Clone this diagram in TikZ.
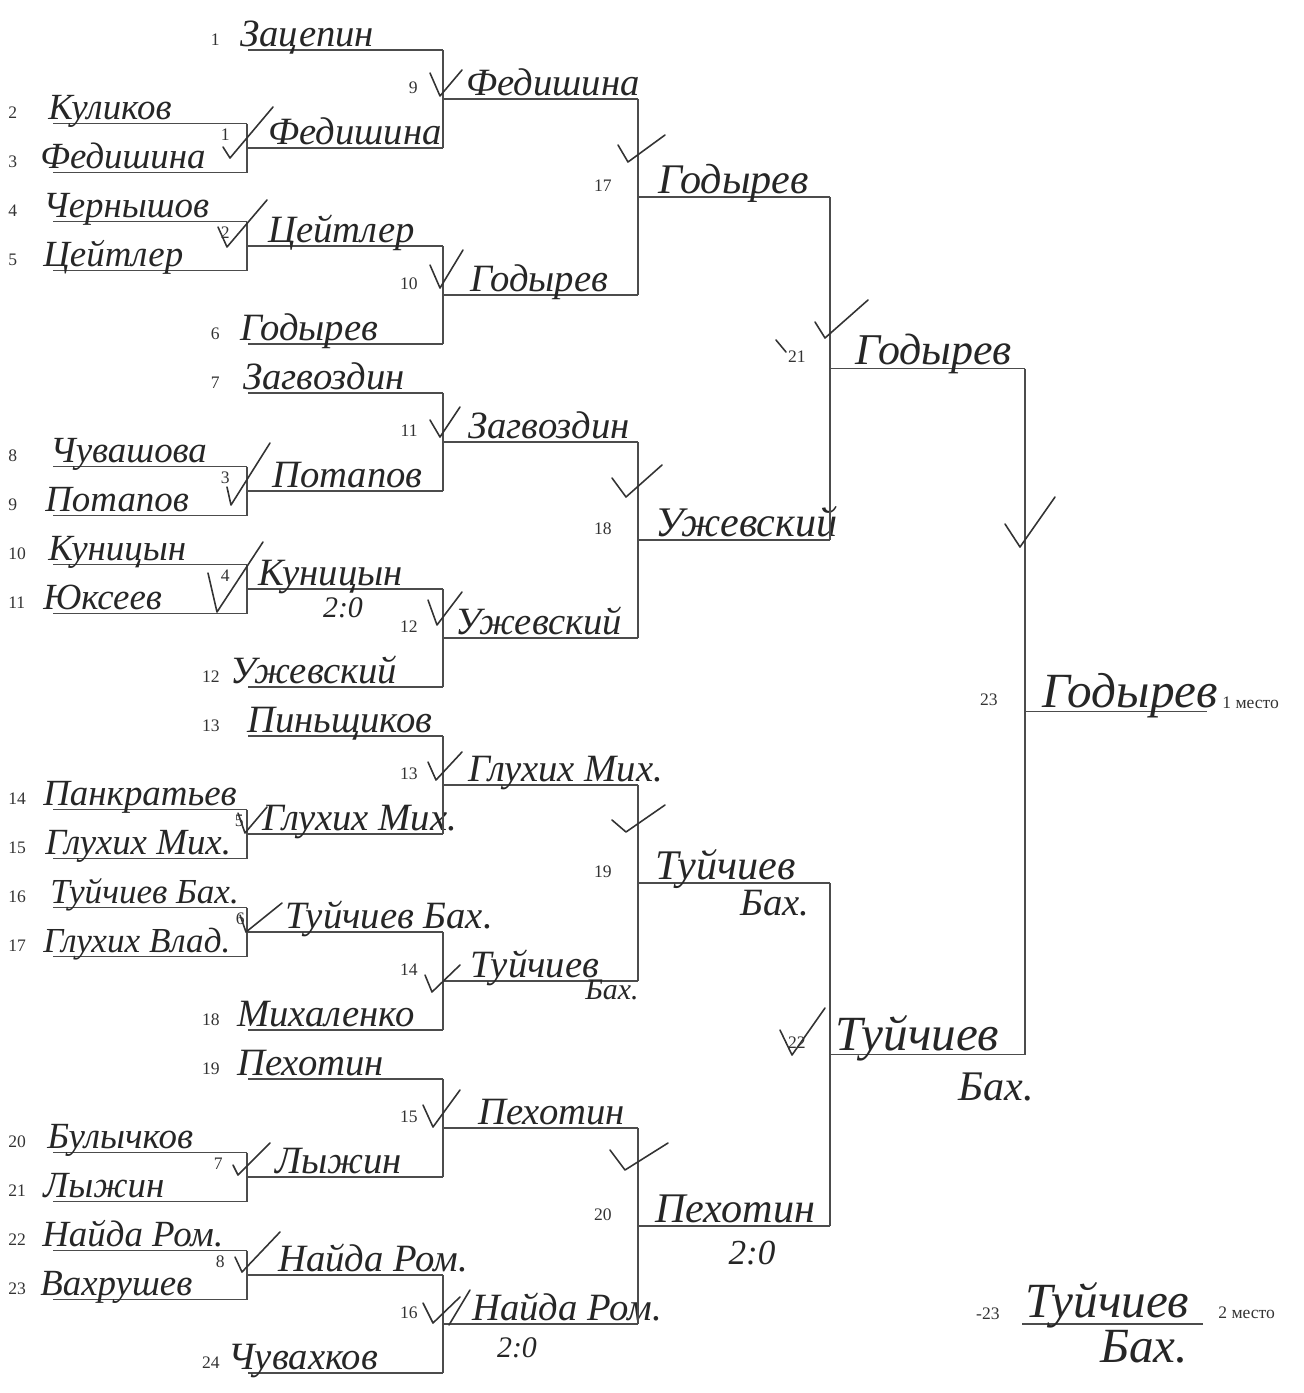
\documentclass[tikz,border=0pt]{standalone}
\usepackage{fontspec}
\setmainfont{Liberation Serif}
\usetikzlibrary{positioning}

\begin{document}
\begin{tikzpicture}[
    x=0.02cm, y=-0.02cm,
    ln/.style={draw=black!70, line width=0.8pt},
    hand/.style={font=\fontsize{22}{24}\selectfont\itshape, text=black!85, inner sep=0pt},
    pair/.style={hand, font=\fontsize{21}{23}\selectfont\itshape},
    big/.style={hand, font=\fontsize{28}{30}\selectfont\itshape},
    small/.style={hand, font=\fontsize{17}{19}\selectfont\itshape},
    num/.style={font=\fontsize{10}{12}\selectfont, text=black!80, inner sep=0pt},
    pen/.style={draw=black!80, line width=0.9pt, line cap=round, line join=round}
]
    \useasboundingbox (0,0) rectangle (1303,1393);

    % First round: pairs on the left
    \foreach \s/\k/\tx/\fs/\txt in {2/3/48/21/Куликов, 3/5/40/21/Федишина, 4/7/43/21/Чернышов, 5/9/43/21/Цейтлер,
        8/17/50/21/Чувашова, 9/19/45/21/Потапов, 10/21/48/21/Куницын, 11/23/43/21/Юксеев,
        14/31/43/21/Панкратьев, 15/33/45/21/Глухих Мих., 16/35/50/20/Туйчиев Бах., 17/37/43/20/Глухих Влад.,
        20/45/47/21/Булычков, 21/47/43/21/Лыжин, 22/49/42/21/Найда Ром., 23/51/40/21/Вахрушев}{
        \pgfmathsetmacro\yy{50+24.5*\k}
        \draw[ln] (53,\yy) coordinate (p\s-l) -- (247,\yy) coordinate (p\s-r);
        \node[num, anchor=base west] (ps\s) at (8,\yy-5) {\s};
        \node[pair, font=\fontsize{\fs}{\fs}\selectfont\itshape, anchor=base west] (pt\s) at (\tx,\yy-4) {\txt};
    }

    % Players entering in the second round
    \foreach \s/\k/\tx/\txt in {1/0/240/Зацепин, 6/12/240/Годырев, 7/14/243/Загвоздин, 12/26/230/Ужевский,
        13/28/247/Пиньщиков, 18/40/237/Михаленко, 19/42/237/Пехотин, 24/54/228/Чувахков}{
        \pgfmathsetmacro\yy{50+24.5*\k}
        \draw[ln] (248,\yy) coordinate (p\s-l) -- (443,\yy) coordinate (p\s-r);
        \node[num, anchor=base east] (ps\s) at (220,\yy-5) {\s};
        \node[hand, anchor=base west] (pt\s) at (\tx,\yy-4) {\txt};
    }

    % Winners of each match
    \foreach \m/\xa/\xb/\k/\mx/\my/\tx/\fs/\txt in {
        1/247/443/4/230/8/268/22/Федишина, 2/247/443/8/230/8/268/22/Цейтлер,
        3/247/443/18/230/8/272/22/Потапов, 4/247/443/22/230/8/258/22/Куницын,
        5/247/443/32/244/8/262/22/Глухих Мих., 6/247/443/36/245/8/285/22/Туйчиев Бах.,
        7/247/443/46/223/8/275/22/Лыжин, 8/247/443/50/225/8/278/22/Найда Ром.,
        9/443/638/2/418/6/466/22/Федишина, 10/443/638/10/418/6/470/22/Годырев,
        11/443/638/16/418/6/468/22/Загвоздин, 12/443/638/24/418/6/455/22/Ужевский,
        13/443/638/30/418/6/468/22/Глухих Мих., 14/443/638/38/418/6/470/22/Туйчиев,
        15/443/638/44/418/6/478/22/Пехотин, 16/443/638/52/418/6/472/22/Найда Ром.,
        17/638/830/6/612/6/658/24/Годырев, 18/638/830/20/612/6/655/24/Ужевский,
        19/638/830/34/612/6/655/24/Туйчиев, 20/638/830/48/612/6/655/24/Пехотин,
        21/830/1025/13/806/6/855/25/Годырев, 22/830/1025/41/806/6/835/28/Туйчиев,
        23/1025/1207/27/998/6/1042/28/Годырев}{
        \pgfmathsetmacro\yy{50+24.5*\k}
        \draw[ln] (\xa,\yy) coordinate (w\m-l) -- (\xb,\yy) coordinate (w\m-r);
        \node[num, anchor=base east] (wn\m) at (\mx,\yy-\my) {\m};
        \node[hand, font=\fontsize{\fs}{\fs}\selectfont\itshape, anchor=base west] (wt\m) at (\tx,\yy-4) {\txt};
    }

    % Runner-up
    \draw[ln] (1022,1324) coordinate (ru-l) -- (1203,1324) coordinate (ru-r);
    \node[num, anchor=base east] (run) at (1000,1319) {-23};
    \node[big, anchor=base west] (rut) at (1025,1317) {Туйчиев};
    \node[big, anchor=base west] (rub) at (1100,1362) {Бах.};

    % Bracket verticals
    \foreach \a/\b in {p2/p3, p4/p5, p8/p9, p10/p11, p14/p15, p16/p17, p20/p21, p22/p23,
        p1/w1, w2/p6, p7/w3, w4/p12, p13/w5, w6/p18, p19/w7, w8/p24,
        w9/w10, w11/w12, w13/w14, w15/w16, w17/w18, w19/w20, w21/w22}
        \draw[ln] (\a-r) -- (\b-r);

    % Second lines and scores
    \node[small, anchor=base] (sc4) at (343,617) {2:0};
    \node[small, anchor=base] (sc16) at (517,1357) {2:0};
    \node[hand, font=\fontsize{20}{22}\selectfont\itshape, anchor=base] (sc20) at (752,1264) {2:0};
    \node[small, anchor=base west] (bx14) at (585,999) {Бах.};
    \node[hand, anchor=base west] (bx19) at (740,915) {Бах.};
    \node[hand, font=\fontsize{24}{26}\selectfont\itshape, anchor=base west] (bx22) at (958,1100) {Бах.};

    % Places
    \node[num, anchor=base west] (pl1) at (1222,708) {1 место};
    \node[num, anchor=base west] (pl2) at (1218,1318) {2 место};

    % Ticks
    \draw[pen] (223,147) -- (230,158) -- (273,107);
    \draw[pen] (218,227) -- (227,247) -- (267,200);
    \draw[pen] (227,487) -- (231,505) -- (270,443);
    \draw[pen] (208,573) -- (217,612) -- (263,542);
    \draw[pen] (238,813) -- (245,833) -- (267,807);
    \draw[pen] (240,915) -- (246,932) -- (282,903);
    \draw[pen] (233,1165) -- (238,1175) -- (270,1143);
    \draw[pen] (235,1257) -- (242,1272) -- (280,1232);
    \draw[pen] (430,73) -- (440,96) -- (462,70);
    \draw[pen] (430,265) -- (440,288) -- (463,250);
    \draw[pen] (430,420) -- (440,437) -- (460,407);
    \draw[pen] (428,600) -- (437,625) -- (462,592);
    \draw[pen] (428,762) -- (436,780) -- (462,752);
    \draw[pen] (425,975) -- (432,992) -- (460,965);
    \draw[pen] (423,1105) -- (433,1127) -- (460,1090);
    \draw[pen] (423,1303) -- (433,1323) -- (460,1297);
    \draw[pen] (449,1325) -- (470,1290);
    \draw[pen] (618,145) -- (628,162) -- (665,135);
    \draw[pen] (612,478) -- (626,497) -- (662,465);
    \draw[pen] (612,820) -- (626,832) -- (665,805);
    \draw[pen] (610,1150) -- (625,1170) -- (668,1143);
    \draw[pen] (815,322) -- (825,338) -- (868,300);
    \draw[pen] (776,340) -- (786,352);
    \draw[pen] (780,1030) -- (792,1055) -- (825,1008);
    \draw[pen] (1005,524) -- (1020,547) -- (1055,497);

\end{tikzpicture}
\end{document}
